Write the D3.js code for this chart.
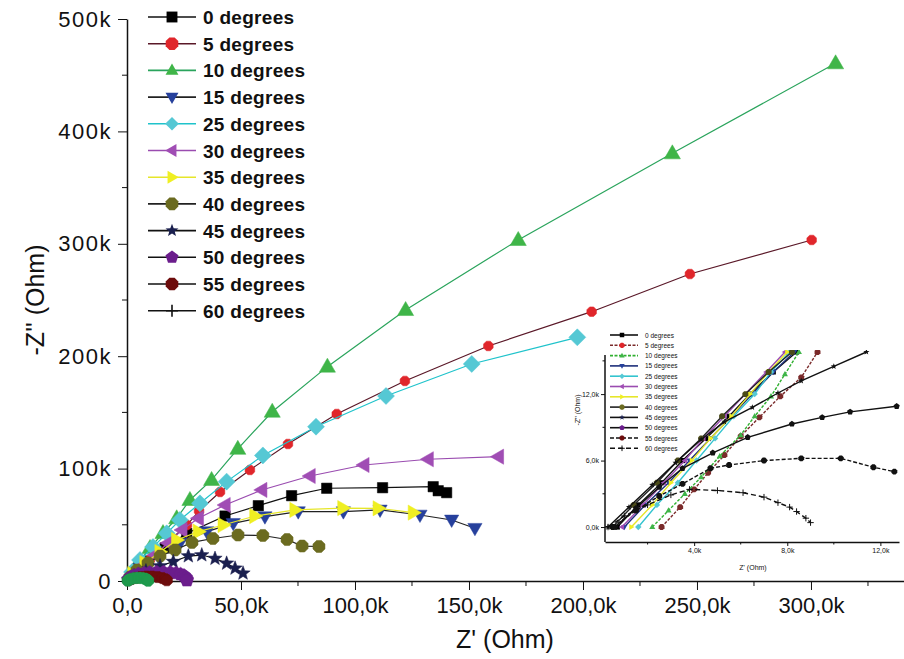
<!DOCTYPE html>
<html lang="en">
<head>
<meta charset="UTF-8">
<title>Impedance vs angle</title>
<style>
  body { margin: 0; background: #fff; }
  svg text { font-family: "Liberation Sans", Arial, sans-serif; fill: #111; }
  .axis path, .axis line { stroke: #111; }
</style>
<script src="https://d3js.org/d3.v7.min.js"></script>
</head>
<body>
<script>
// values in kOhm, pairs of [Z', -Z'']
const labels = ["0 degrees", "5 degrees", "10 degrees", "15 degrees", "25 degrees", "30 degrees",
  "35 degrees", "40 degrees", "45 degrees", "50 degrees", "55 degrees", "60 degrees"];

const main0 = [[3.1,7.1],[9.2,17.8],[16.7,29.4],[26.2,42.4],[43,57.8],[57.6,67],[72.2,75.9],[87.6,82.5],[112.1,83],[134.3,83.9],[136.5,80.3],[140.2,78.6]];
const main5 = [[3.5,5.3],[10,18.7],[18.9,36.5],[26.3,49.8],[31.6,62.3],[40.8,79.2],[53.9,98.8],[70.6,121.9],[92,148.6],[121.9,178],[158.5,209.1],[203.8,239.6],[246.9,273.1],[300.3,303.4]];
const main10 = [[1.3,5.3],[4.8,16],[10.1,29.4],[15.8,42.7],[21.8,55.8],[27.6,72.1],[37.1,89.9],[48.6,117.6],[63.7,150.6],[87.9,190.7],[122.2,241.1],[171.6,303.4],[239.2,380.5],[310.8,460.6]];
const main15 = [[5.7,11.6],[13.6,22.2],[23.2,33.8],[35,43.9],[46.6,51.3],[60.5,57.2],[75.1,61.7],[94.9,61.7],[111,63.2],[128.5,58.7],[142.4,54.3],[152.6,46.9]];
const main25 = [[2.2,8],[5.7,18.7],[11.4,30.2],[17.4,42.4],[23.2,54.3],[32,69.1],[43.7,88.4],[59.6,111.7],[82.9,137.3],[113.6,164.6],[151.2,193.1],[197.5,216.8]];
const main30 = [[2.2,5.3],[6.6,13.3],[12.3,23.1],[18,33.8],[24.1,45.4],[31.3,55.8],[43,67.6],[59.1,81],[80.3,93.4],[103.9,103.2],[132.1,108.3],[162.9,110.6]];
const main35 = [[2.6,6.2],[7.9,16],[14.5,25.8],[21.8,36.5],[31.3,43.9],[42.2,49.8],[56.1,57.8],[73.7,63.2],[94.7,64.9],[110.2,64.7],[125.6,60.8]];
const main40 = [[1.3,3.6],[4.4,9.8],[9.2,16],[14.5,22.2],[21.1,27.6],[28.5,34.3],[37.7,37.8],[48.7,40.9],[59.6,40.5],[70.2,36.9],[76.8,31.1],[84.2,30.7]];
const main45 = [[3.1,4.4],[8.3,8.9],[14.5,13.3],[20.3,17.2],[26.9,22.2],[32.8,23.1],[38.6,20],[43.7,15.7],[47.4,11.3],[50.9,6.9]];
const main50 = [[0.5,1.5],[1.5,3.5],[3,5],[5,6.3],[7.5,7],[10,7.5],[13,7.8],[16,7.8],[19,7.5],[21.5,7],[23.5,6],[25,4.8],[25.8,3.2],[26.2,1.6],[26.3,0.5]];
const main55 = [[0.5,0.5],[2,1.8],[4,2.8],[6,3.5],[8.5,4],[11,4],[13.5,3.5],[15.5,2.6],[16.8,1.6],[17.5,0.6]];
const main60 = [[0.3,0.3],[1,1.2],[2,2],[3.5,2.6],[5,2.8],[6.5,2.6],[7.8,2.1],[8.6,1.4],[9.1,0.7],[9.3,0.2]];

// inset (high frequency zoom)
const ins0 = [[0.7,0],[1.6,2],[2.6,4],[3.5,6],[4.5,8],[5.5,10],[6.4,12],[7.4,14],[8.4,15.8]];
const ins5 = [[2.6,0],[3.4,1.8],[4.0,3.4],[4.6,4.9],[5.3,6.5],[6.0,8.2],[6.8,9.9],[7.7,11.8],[8.6,13.5],[9.3,15.8]];
const ins10 = [[2.2,0],[2.9,1.5],[3.6,3],[4.3,4.5],[5.1,6.4],[6.0,8.3],[6.6,10],[7.3,11.8],[7.9,13.8],[8.5,15.8]];
const ins15 = [[1.0,0],[1.9,2],[2.9,4],[3.8,6],[4.7,8],[5.6,10],[6.5,12],[7.4,14],[8.3,15.8]];
const ins25 = [[1.6,0],[2.4,2],[3.3,4],[4.1,6],[4.9,8],[5.7,10],[6.6,12],[7.3,14],[8.1,15.8]];
const ins30 = [[0.9,0],[1.8,2],[2.7,4],[3.6,6],[4.4,8],[5.3,10],[6.2,12],[7.1,14],[7.9,15.8]];
const ins35 = [[1.3,0],[2.2,2],[3.0,4],[3.9,6],[4.7,8],[5.6,10],[6.4,12],[7.2,14],[8.0,15.8]];
const ins40 = [[0.5,0],[1.4,2],[2.4,4],[3.3,6],[4.3,8],[5.2,10],[6.2,12],[7.2,14],[8.2,15.8]];
const ins45 = [[0.3,0],[1.2,1.8],[2.2,3.8],[3.2,5.8],[4.3,7.9],[5.3,9.5],[6.5,10.8],[7.6,12.1],[8.6,13.2],[10,14.5],[11.4,15.8]];
const ins50 = [[0.6,0],[1.5,1.7],[2.5,3.6],[3.5,5.3],[4.8,6.7],[6.3,8.1],[8.2,9.3],[9.5,9.9],[10.7,10.4],[12.7,10.9]];
const ins55 = [[0.5,0],[1.5,1.5],[2.5,2.8],[3.5,3.9],[4.7,5.3],[5.5,5.6],[7,6],[8.6,6.2],[10.3,6.2],[11.7,5.4],[12.6,5]];
const ins60 = [[0.3,0],[1,1],[2,2],[3,2.9],[3.8,3.4],[5,3.3],[6.1,3.1],[7,2.7],[7.6,2.2],[8.1,1.8],[8.4,1.4],[8.8,0.8],[9,0.4]];

const xTicks = [0, 50, 100, 150, 200, 250, 300];
const yTicks = [0, 100, 200, 300, 400, 500];
const insXTicks = [4, 8, 12];
const insYTicks = [0, 6, 12];

const mainData = [main0, main5, main10, main15, main25, main30, main35, main40, main45, main50, main55, main60];
const insData = [ins0, ins5, ins10, ins15, ins25, ins30, ins35, ins40, ins45, ins50, ins55, ins60];

// marker look per series
const shapes = ["square", "circle", "up", "down", "diamond", "left", "right", "circle", "star", "pentagon", "circle", "plus"];
const fills = ["#000000", "#e0262b", "#3fb548", "#26409c", "#55c8d4", "#a04db4", "#efef22", "#6b6b20", "#1a1f4e", "#6b1d8c", "#6d0c0c", "#111111"];
const lines = ["#111111", "#5a1828", "#2aa45c", "#222222", "#1fc3cb", "#9a4cb0", "#e6e62a", "#222222", "#111111", "#111111", "#111111", "#111111"];
const insLines = ["#111111", "#7a2a2a", "#30b030", "#1d2f7a", "#33c4cf", "#9a4cb0", "#e6e62a", "#222222", "#111111", "#111111", "#111111", "#111111"];
const insFills = ["#000000", "#7a2a2a", "#3fb548", "#26409c", "#55c8d4", "#a04db4", "#efef22", "#4a4a18", "#111111", "#111111", "#111111", "#111111"];
const insDash = [null, "3,1.5", "3,1.5", null, null, null, null, null, null, null, "4,2", "5,3"];
// in the big plot the 60 degree cluster near the origin shows up green
const mainFillOverride = { 11: "#1e9a4c" };

function shapePath(shape, r) {
  const poly = pts => "M" + pts.map(p => p[0].toFixed(2) + "," + p[1].toFixed(2)).join("L") + "Z";
  const regular = (n, rot) => d3.range(n).map(i => {
    const a = rot + i * 2 * Math.PI / n;
    return [r * Math.cos(a), r * Math.sin(a)];
  });
  switch (shape) {
    case "square": return poly([[-r*0.8,-r*0.8],[r*0.8,-r*0.8],[r*0.8,r*0.8],[-r*0.8,r*0.8]]);
    case "circle": return poly(regular(8, Math.PI / 8));
    case "up": return poly([[0,-r],[r*0.95,r*0.65],[-r*0.95,r*0.65]]);
    case "down": return poly([[0,r],[r*0.95,-r*0.65],[-r*0.95,-r*0.65]]);
    case "left": return poly([[-r,0],[r*0.65,-r*0.95],[r*0.65,r*0.95]]);
    case "right": return poly([[r,0],[-r*0.65,-r*0.95],[-r*0.65,r*0.95]]);
    case "diamond": return poly([[0,-r],[r,0],[0,r],[-r,0]]);
    case "pentagon": return poly(regular(5, -Math.PI / 2));
    case "star": {
      const pts = d3.range(10).map(i => {
        const a = -Math.PI / 2 + i * Math.PI / 5;
        const rr = i % 2 ? r * 0.42 : r;
        return [rr * Math.cos(a), rr * Math.sin(a)];
      });
      return poly(pts);
    }
    case "plus": return `M${-r},0H${r}M0,${-r}V${r}`;
  }
}

const W = 904, H = 659;
const svg = d3.select("body").append("svg").attr("width", W).attr("height", H);

// ---------- main plot ----------
const x = d3.scaleLinear().domain([0, 340.8]).range([127, 904]);
const y = d3.scaleLinear().domain([0, 500]).range([581, 19]);

const fmtX = d => d === 0 ? "0,0" : d3.format(".1f")(d).replace(".", ",") + "k";
const fmtY = d => d === 0 ? "0" : d + "k";

const xAxis = svg.append("g").attr("class", "axis").attr("transform", `translate(0,${y(0)})`)
  .call(d3.axisBottom(x).tickValues(xTicks).tickFormat(fmtX).tickSize(9).tickPadding(7).tickSizeOuter(0));
xAxis.append("g").selectAll("line").data(d3.range(25, 340, 50)).join("line")
  .attr("x1", d => x(d)).attr("x2", d => x(d)).attr("y1", 0).attr("y2", 5).attr("stroke", "#111");
xAxis.selectAll("text").style("font-size", "22px");

const yAxis = svg.append("g").attr("class", "axis").attr("transform", `translate(${x(0)},0)`)
  .call(d3.axisLeft(y).tickValues(yTicks).tickFormat(fmtY).tickSize(9).tickPadding(6).tickSizeOuter(0));
yAxis.append("g").selectAll("line").data(d3.range(50, 500, 100)).join("line")
  .attr("y1", d => y(d)).attr("y2", d => y(d)).attr("x1", 0).attr("x2", -5).attr("stroke", "#111");
yAxis.selectAll("text").style("font-size", "22px").style("letter-spacing", "1.5px");
svg.selectAll(".axis .domain").attr("stroke-width", 1.5);

svg.append("text").attr("x", 505).attr("y", 648).attr("text-anchor", "middle")
  .style("font-size", "25px").text("Z' (Ohm)");
svg.append("text").attr("transform", "translate(44,300) rotate(-90)").attr("text-anchor", "middle")
  .style("font-size", "25px").text("-Z'' (Ohm)");

const lineMain = d3.line().x(d => x(d[0])).y(d => y(d[1]));
const sizesMain = [6.5, 5.2, 8.5, 7.5, 8.5, 8, 8, 6.5, 7.5, 7, 6, 6];

mainData.forEach((data, i) => {
  const g = svg.append("g");
  g.append("path").attr("d", lineMain(data)).attr("fill", "none")
    .attr("stroke", lines[i]).attr("stroke-width", 1.2);
  const fill = mainFillOverride[i] || fills[i];
  g.selectAll("path.m").data(data).join("path").attr("class", "m")
    .attr("transform", d => `translate(${x(d[0])},${y(d[1])})`)
    .attr("d", shapePath(i === 11 ? "circle" : shapes[i], sizesMain[i]))
    .attr("fill", fill).attr("stroke", fill).attr("stroke-width", 0.5);
});

// legend
const leg = svg.append("g");
labels.forEach((lab, i) => {
  const ly = 17 + i * 26.7;
  leg.append("line").attr("x1", 148).attr("x2", 196).attr("y1", ly).attr("y2", ly)
    .attr("stroke", lines[i]).attr("stroke-width", 1.6);
  const p = leg.append("path").attr("transform", `translate(172,${ly})`)
    .attr("d", shapePath(shapes[i], shapes[i] === "plus" ? 6 : 6.8));
  if (shapes[i] === "plus") p.attr("fill", "none").attr("stroke", fills[i]).attr("stroke-width", 1.6);
  else p.attr("fill", fills[i]);
  leg.append("text").attr("x", 203).attr("y", ly + 7).style("font-size", "19px")
    .style("font-weight", "bold").style("letter-spacing", "0.3px").text(lab);
});

// ---------- inset ----------
const ix = d3.scaleLinear().domain([0.17, 12.8]).range([605, 899]);
const iy = d3.scaleLinear().domain([-1.35, 15.8]).range([542, 352]);

svg.append("clipPath").attr("id", "insclip").append("rect")
  .attr("x", 605).attr("y", 350).attr("width", 296).attr("height", 192);

const ixAxis = svg.append("g").attr("class", "axis").attr("transform", `translate(0,542)`)
  .call(d3.axisBottom(ix).tickValues(insXTicks).tickFormat(d => d + ",0k").tickSize(4).tickPadding(2).tickSizeOuter(0));
ixAxis.append("g").selectAll("line").data([2, 6, 10]).join("line")
  .attr("x1", d => ix(d)).attr("x2", d => ix(d)).attr("y1", 0).attr("y2", 2.5).attr("stroke", "#111");
ixAxis.selectAll("text").style("font-size", "7px");

const iyAxis = svg.append("g").attr("class", "axis").attr("transform", `translate(605,0)`)
  .call(d3.axisLeft(iy).tickValues(insYTicks).tickFormat(d => d + ",0k").tickSize(4).tickPadding(2).tickSizeOuter(0));
iyAxis.append("g").selectAll("line").data([3, 9, 15]).join("line")
  .attr("y1", d => iy(d)).attr("y2", d => iy(d)).attr("x1", 0).attr("x2", -2.5).attr("stroke", "#111");
iyAxis.selectAll("text").style("font-size", "7px");
iyAxis.select(".domain").attr("d", "M0,355V542");
svg.selectAll(".axis .domain").attr("stroke-width", 1.5);

svg.append("text").attr("x", 753).attr("y", 570).attr("text-anchor", "middle")
  .style("font-size", "7px").text("Z' (Ohm)");
svg.append("text").attr("transform", "translate(580,410) rotate(-90)").attr("text-anchor", "middle")
  .style("font-size", "7px").text("-Z'' (Ohm)");

const lineIns = d3.line().x(d => ix(d[0])).y(d => iy(d[1]));
const insPlot = svg.append("g").attr("clip-path", "url(#insclip)");
insData.forEach((data, i) => {
  insPlot.append("path").attr("d", lineIns(data)).attr("fill", "none")
    .attr("stroke", insLines[i]).attr("stroke-width", 1.4)
    .attr("stroke-dasharray", insDash[i]);
  const p = insPlot.selectAll(null).data(data).join("path")
    .attr("transform", d => `translate(${ix(d[0])},${iy(d[1])})`)
    .attr("d", shapePath(shapes[i], 3.2));
  if (shapes[i] === "plus") p.attr("fill", "none").attr("stroke", "#111").attr("stroke-width", 1);
  else p.attr("fill", insFills[i]);
});

const ileg = svg.append("g");
labels.forEach((lab, i) => {
  const ly = 335 + i * 10.3;
  ileg.append("line").attr("x1", 610).attr("x2", 638).attr("y1", ly).attr("y2", ly)
    .attr("stroke", insLines[i]).attr("stroke-width", 1.6).attr("stroke-dasharray", insDash[i]);
  const p = ileg.append("path").attr("transform", `translate(622,${ly})`)
    .attr("d", shapePath(shapes[i], 2.8));
  if (shapes[i] === "plus") p.attr("fill", "none").attr("stroke", "#111").attr("stroke-width", 1);
  else p.attr("fill", fills[i]);
  ileg.append("text").attr("x", 645).attr("y", ly + 2.5).style("font-size", "6.5px").text(lab);
});
</script>
</body>
</html>
